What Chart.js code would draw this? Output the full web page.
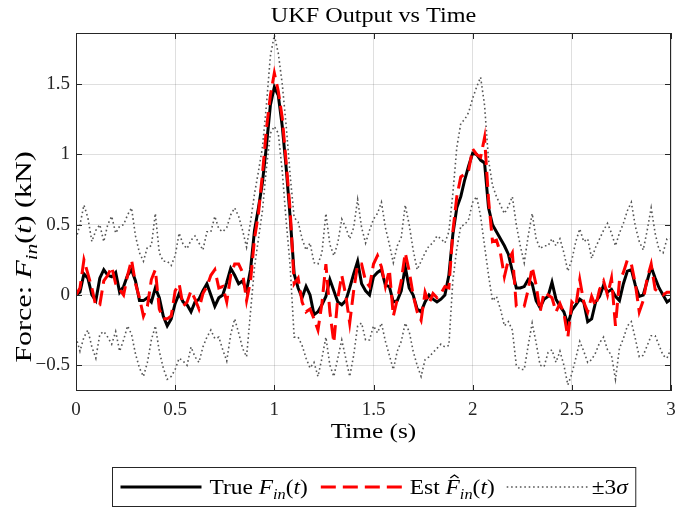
<!DOCTYPE html>
<html>
<head>
<meta charset="utf-8">
<script src="https://cdn.jsdelivr.net/npm/chart.js@4.4.1/dist/chart.umd.min.js"></script>
<style>
html, body { margin: 0; padding: 0; background: #fff; }
</style>
</head>
<body>
<canvas id="ukfChart" width="675" height="512"></canvas>
<script>
// time axis (s), 0.02 s steps
const timeS = [
  0, 0.02, 0.04, 0.06, 0.08, 0.1, 0.12, 0.14, 0.16, 0.18,
  0.2, 0.22, 0.24, 0.26, 0.28, 0.3, 0.32, 0.34, 0.36, 0.38,
  0.4, 0.42, 0.44, 0.46, 0.48, 0.5, 0.52, 0.54, 0.56, 0.58,
  0.6, 0.62, 0.64, 0.66, 0.68, 0.7, 0.72, 0.74, 0.76, 0.78,
  0.8, 0.82, 0.84, 0.86, 0.88, 0.9, 0.92, 0.94, 0.96, 0.98,
  1, 1.02, 1.04, 1.06, 1.08, 1.1, 1.12, 1.14, 1.16, 1.18,
  1.2, 1.22, 1.24, 1.26, 1.28, 1.3, 1.32, 1.34, 1.36, 1.38,
  1.4, 1.42, 1.44, 1.46, 1.48, 1.5, 1.52, 1.54, 1.56, 1.58,
  1.6, 1.62, 1.64, 1.66, 1.68, 1.7, 1.72, 1.74, 1.76, 1.78,
  1.8, 1.82, 1.84, 1.86, 1.88, 1.9, 1.92, 1.94, 1.96, 1.98,
  2, 2.02, 2.04, 2.06, 2.08, 2.1, 2.12, 2.14, 2.16, 2.18,
  2.2, 2.22, 2.24, 2.26, 2.28, 2.3, 2.32, 2.34, 2.36, 2.38,
  2.4, 2.42, 2.44, 2.46, 2.48, 2.5, 2.52, 2.54, 2.56, 2.58,
  2.6, 2.62, 2.64, 2.66, 2.68, 2.7, 2.72, 2.74, 2.76, 2.78,
  2.8, 2.82, 2.84, 2.86, 2.88, 2.9, 2.92, 2.94, 2.96, 2.98,
  3
];

// true input force (kN)
const trueForce = [
  0.00, 0.02, 0.15, 0.12, 0.00, -0.04, 0.12, 0.18, 0.14, 0.13, 0.16, 0.02, 0.06, 0.14, 0.18, 0.10, -0.04, -0.04, -0.02,
  -0.05, 0.05, -0.02, -0.15, -0.22, -0.17, -0.06, 0.01, -0.05, -0.07, -0.12, -0.05, -0.03, 0.03, 0.08, 0.00, -0.08, -0.02, 0.00,
  0.09, 0.19, 0.14, 0.08, 0.10, 0.03, 0.18, 0.46, 0.62, 0.80, 1.06, 1.35, 1.48, 1.42, 1.20, 0.90, 0.55, 0.15,
  0.05, -0.02, 0.06, 0.00, -0.14, -0.12, -0.07, -0.01, 0.11, 0.03, -0.05, -0.07, -0.04, 0.05, 0.15, 0.24, 0.08, 0.03, 0.00,
  0.13, 0.16, 0.18, 0.07, 0.06, -0.05, -0.04, 0.03, 0.20, 0.05, 0.00, -0.10, -0.12, -0.05, 0.00, -0.03, -0.05, -0.03, 0.00,
  0.14, 0.43, 0.62, 0.70, 0.82, 0.92, 1.01, 1.00, 0.96, 0.94, 0.62, 0.50, 0.45, 0.40, 0.35, 0.29, 0.17, 0.05, 0.05,
  0.06, 0.11, 0.08, -0.04, -0.09, -0.03, -0.01, 0.09, -0.03, -0.08, -0.12, -0.21, -0.11, -0.07, -0.03, -0.05, -0.19, -0.17,
  -0.05, -0.01, 0.07, 0.02, 0.04, -0.01, -0.04, 0.08, 0.17, 0.18, 0.07, -0.01, 0.00, 0.10, 0.20, 0.12, 0.05, 0.00, -0.05, -0.03
];

// UKF estimate (kN)
const estForce = [
  0.00, 0.05, 0.25, 0.15, 0.05, -0.08, -0.07, 0.10, 0.14, 0.20, 0.08, 0.04, 0.00, 0.14, 0.25, 0.08, -0.02, -0.15, -0.08,
  0.11, 0.18, -0.10, -0.17, -0.17, -0.15, 0.03, 0.08, -0.08, -0.05, 0.03, -0.03, -0.10, 0.01, 0.06, 0.14, 0.18, 0.05, 0.06,
  -0.05, 0.14, 0.22, 0.22, 0.16, -0.04, 0.10, 0.40, 0.58, 0.86, 1.18, 1.42, 1.58, 1.45, 1.26, 0.94, 0.60, 0.08,
  0.12, -0.05, -0.12, -0.10, -0.17, -0.25, -0.06, 0.22, -0.12, -0.34, -0.02, 0.14, 0.00, -0.20, 0.03, 0.22, 0.22, 0.10, 0.06,
  0.22, 0.28, 0.20, 0.06, 0.18, -0.15, -0.03, 0.10, 0.30, 0.17, 0.00, -0.12, -0.18, 0.02, -0.06, 0.01, -0.02, 0.01, 0.06,
  0.05, 0.45, 0.70, 0.84, 0.86, 0.89, 1.04, 1.00, 0.98, 1.12, 0.68, 0.38, 0.39, 0.30, 0.13, 0.25, 0.30, -0.08, -0.09,
  -0.08, 0.04, 0.20, 0.07, -0.12, 0.02, 0.00, -0.02, -0.12, -0.06, -0.13, -0.30, -0.05, -0.08, 0.11, -0.05, -0.12, -0.01,
  -0.08, 0.04, 0.10, 0.00, 0.12, -0.22, 0.10, 0.16, 0.25, 0.22, 0.08, -0.12, -0.04, 0.12, 0.22, 0.04, 0.02, 0.00, 0.02, 0.02
];

// +3 sigma bound (kN)
const upperBound = [
  0.40, 0.50, 0.64, 0.55, 0.38, 0.46, 0.50, 0.38, 0.50, 0.56, 0.44, 0.49, 0.50, 0.57, 0.62, 0.42, 0.30, 0.24, 0.34,
  0.35, 0.58, 0.30, 0.24, 0.24, 0.21, 0.28, 0.44, 0.36, 0.33, 0.39, 0.42, 0.37, 0.32, 0.45, 0.45, 0.56, 0.47, 0.45,
  0.48, 0.57, 0.62, 0.56, 0.46, 0.34, 0.52, 0.72, 0.88, 1.05, 1.35, 1.70, 1.85, 1.72, 1.50, 1.20, 0.85, 0.55,
  0.52, 0.40, 0.32, 0.37, 0.23, 0.22, 0.30, 0.58, 0.36, 0.28, 0.37, 0.54, 0.48, 0.40, 0.48, 0.68, 0.48, 0.37, 0.46,
  0.54, 0.58, 0.66, 0.48, 0.36, 0.23, 0.35, 0.41, 0.64, 0.50, 0.32, 0.18, 0.24, 0.30, 0.35, 0.37, 0.42, 0.40, 0.37,
  0.45, 0.72, 1.05, 1.22, 1.25, 1.30, 1.40, 1.48, 1.55, 1.35, 0.96, 0.78, 0.70, 0.64, 0.58, 0.63, 0.70, 0.50, 0.35,
  0.23, 0.42, 0.58, 0.40, 0.33, 0.35, 0.35, 0.40, 0.35, 0.40, 0.30, 0.17, 0.25, 0.38, 0.47, 0.38, 0.40, 0.26,
  0.34, 0.40, 0.46, 0.51, 0.44, 0.35, 0.44, 0.51, 0.60, 0.66, 0.49, 0.38, 0.32, 0.46, 0.62, 0.44, 0.32, 0.30, 0.40, 0.40
];

// -3 sigma bound (kN)
const lowerBound = [
  -0.30, -0.40, -0.30, -0.25, -0.37, -0.45, -0.28, -0.26, -0.30, -0.35, -0.26, -0.40, -0.32, -0.22, -0.28, -0.42, -0.52, -0.58, -0.48,
  -0.32, -0.22, -0.40, -0.52, -0.60, -0.58, -0.53, -0.45, -0.47, -0.50, -0.37, -0.44, -0.48, -0.37, -0.30, -0.25, -0.31, -0.30, -0.39,
  -0.47, -0.28, -0.17, -0.27, -0.38, -0.44, -0.12, 0.20, 0.40, 0.60, 0.90, 1.15, 1.20, 1.15, 0.88, 0.52, 0.20, -0.30,
  -0.30, -0.36, -0.45, -0.52, -0.48, -0.58, -0.45, -0.30, -0.50, -0.58, -0.45, -0.32, -0.45, -0.58, -0.43, -0.22, -0.20, -0.32, -0.32,
  -0.22, -0.27, -0.20, -0.33, -0.43, -0.53, -0.40, -0.33, -0.20, -0.26, -0.40, -0.50, -0.58, -0.46, -0.44, -0.41, -0.38, -0.35, -0.37,
  -0.36, 0.10, 0.33, 0.49, 0.50, 0.54, 0.66, 0.70, 0.56, 0.35, 0.14, -0.04, -0.01, -0.10, -0.22, -0.19, -0.25, -0.50, -0.53,
  -0.53, -0.36, -0.20, -0.34, -0.50, -0.51, -0.41, -0.39, -0.48, -0.40, -0.50, -0.64, -0.56, -0.45, -0.33, -0.40, -0.48, -0.46,
  -0.41, -0.34, -0.30, -0.39, -0.43, -0.60, -0.38, -0.31, -0.22, -0.19, -0.31, -0.44, -0.43, -0.36, -0.29, -0.29, -0.36, -0.43, -0.45, -0.38
];

const xTicks = [0, 0.5, 1, 1.5, 2, 2.5, 3];
const yTicks = [-0.5, 0, 0.5, 1, 1.5];

const FONT = '"Liberation Serif", "Times New Roman", serif';
const AXIS_COLOR = '#262626';

// rich text pieces: it = italic, sub = subscript, hat = circumflex over the glyph
const titleParts = [{ t: 'UKF Output vs Time' }];
const xLabelParts = [{ t: 'Time (s)' }];
const yLabelParts = [
  { t: 'Force: ' }, { t: 'F', it: true }, { t: 'in', it: true, sub: true },
  { t: '(' }, { t: 't', it: true }, { t: ') (kN)' }
];
const legendLabels = [
  [{ t: 'True ' }, { t: 'F', it: true }, { t: 'in', it: true, sub: true }, { t: '(' }, { t: 't', it: true }, { t: ')' }],
  [{ t: 'Est ' }, { t: 'F', it: true, hat: true }, { t: 'in', it: true, sub: true }, { t: '(' }, { t: 't', it: true }, { t: ')' }],
  [{ t: '\u00b13' }, { t: '\u03c3', it: true }]
];

function toPoints(ys) {
    return ys.map((y, i) => ({ x: timeS[i], y: y }));
}

function setFont(ctx, part, size) {
    const fs = part.sub ? size * 0.7 : size;
    ctx.font = (part.it ? 'italic ' : '') + fs + 'px ' + FONT;
}

function richWidth(ctx, parts, size, stretch) {
    let w = 0;
    parts.forEach(p => {
        setFont(ctx, p, size);
        w += ctx.measureText(p.t).width;
    });
    return w * (stretch || 1);
}

// draws text pieces from x (left) on a baseline, stretched horizontally like the CM font
function drawRich(ctx, parts, x, baseline, size, stretch) {
    ctx.save();
    ctx.translate(x, baseline);
    ctx.scale(stretch || 1, 1);
    let cx = 0;
    ctx.textAlign = 'left';
    ctx.textBaseline = 'alphabetic';
    parts.forEach(p => {
        setFont(ctx, p, size);
        const dy = p.sub ? size * 0.25 : 0;
        const w = ctx.measureText(p.t).width;
        ctx.fillText(p.t, cx, dy);
        if (p.hat) {
            const c = cx + w * 0.62;
            const top = -size * 0.93;
            ctx.save();
            ctx.lineWidth = 1;
            ctx.strokeStyle = ctx.fillStyle;
            ctx.beginPath();
            ctx.moveTo(c - 3.5, top + 3);
            ctx.lineTo(c, top);
            ctx.lineTo(c + 3.5, top + 3);
            ctx.stroke();
            ctx.restore();
        }
        cx += w;
    });
    ctx.restore();
}

function drawCentered(ctx, parts, cx, cy, size, stretch) {
    const w = richWidth(ctx, parts, size, stretch);
    drawRich(ctx, parts, cx - w / 2, cy + size * 0.33, size, stretch);
}

// axes box, inward ticks, title, axis labels and boxed legend in MATLAB style
const matlabFrame = {
    id: 'matlabFrame',
    afterDraw(chart) {
        const ctx = chart.ctx;
        const area = chart.chartArea;
        const xs = chart.scales.x;
        const ys = chart.scales.y;
        const midX = (area.left + area.right) / 2;
        ctx.save();

        ctx.strokeStyle = AXIS_COLOR;
        ctx.lineWidth = 1;
        ctx.strokeRect(area.left + 0.5, area.top + 0.5, area.right - area.left - 1, area.bottom - area.top - 1);
        const tl = 6;
        ctx.beginPath();
        xTicks.forEach(v => {
            const px = Math.round(xs.getPixelForValue(v)) + 0.5;
            ctx.moveTo(px, area.bottom); ctx.lineTo(px, area.bottom - tl);
            ctx.moveTo(px, area.top); ctx.lineTo(px, area.top + tl);
        });
        yTicks.forEach(v => {
            const py = Math.round(ys.getPixelForValue(v)) + 0.5;
            ctx.moveTo(area.left, py); ctx.lineTo(area.left + tl, py);
            ctx.moveTo(area.right, py); ctx.lineTo(area.right - tl, py);
        });
        ctx.stroke();

        ctx.fillStyle = '#000';
        drawCentered(ctx, titleParts, midX, 15, 22, 1.1);
        drawCentered(ctx, xLabelParts, midX, 431, 22, 1.15);

        // y label, rotated
        ctx.save();
        ctx.translate(23, 257);
        ctx.rotate(-Math.PI / 2);
        drawCentered(ctx, yLabelParts, 0, 0, 24, 1.25);
        ctx.restore();

        // legend
        const lSize = 20, stretch = 1.17;
        const sample = 81, gapAfterLine = 8, gaps = [13, 12], padL = 8, padR = 4;
        const entries = [chart.data.datasets[0], chart.data.datasets[1], chart.data.datasets[2]];
        const widths = legendLabels.map(p => richWidth(ctx, p, lSize, stretch));
        let total = padL + padR;
        widths.forEach((w, i) => { total += sample + gapAfterLine + w + (i < widths.length - 1 ? gaps[i] : 0); });
        const boxX = Math.round(midX - total / 2) + 0.5;
        const boxY = 467.5, boxH = 39;
        ctx.fillStyle = '#fff';
        ctx.fillRect(boxX, boxY, total, boxH);
        ctx.strokeStyle = AXIS_COLOR;
        ctx.lineWidth = 1;
        ctx.setLineDash([]);
        ctx.strokeRect(boxX, boxY, total, boxH);
        const midY = boxY + boxH / 2;
        let cx = boxX + padL;
        entries.forEach((ds, i) => {
            ctx.save();
            ctx.strokeStyle = ds.borderColor;
            ctx.lineWidth = ds.borderWidth;
            ctx.setLineDash(ds.borderDash || []);
            ctx.beginPath();
            ctx.moveTo(cx, midY);
            ctx.lineTo(cx + sample, midY);
            ctx.stroke();
            ctx.restore();
            cx += sample + (i === 2 ? 4 : gapAfterLine);
            ctx.fillStyle = '#000';
            drawRich(ctx, legendLabels[i], cx, midY + lSize * 0.33, lSize, stretch);
            cx += widths[i] + (i < 2 ? gaps[i] : 0);
        });
        ctx.restore();
    }
};

const ctx = document.getElementById('ukfChart').getContext('2d');
const ukfChart = new Chart(ctx, {
    type: 'line',
    data: {
        datasets: [
            {
                label: 'True',
                data: toPoints(trueForce),
                borderColor: '#000000',
                borderWidth: 3,
                pointRadius: 0,
                tension: 0,
                order: 2,
            },
            {
                label: 'Est',
                data: toPoints(estForce),
                borderColor: '#ff0000',
                borderWidth: 3,
                borderDash: [15, 7],
                pointRadius: 0,
                tension: 0,
                order: 1,
            },
            {
                label: '+3 sigma',
                data: toPoints(upperBound),
                borderColor: '#555555',
                borderWidth: 1.6,
                borderDash: [1.6, 2.8],
                pointRadius: 0,
                tension: 0,
                order: 3,
            },
            {
                label: '-3 sigma',
                data: toPoints(lowerBound),
                borderColor: '#555555',
                borderWidth: 1.6,
                borderDash: [1.6, 2.8],
                pointRadius: 0,
                tension: 0,
                order: 3,
            },
        ],
    },
    options: {
        responsive: false,
        animation: false,
        devicePixelRatio: 1,
        layout: { padding: { left: 0, right: 4, top: 33, bottom: 0 } },
        plugins: {
            legend: { display: false },
            tooltip: { enabled: false },
            title: { display: false },
        },
        scales: {
            x: {
                type: 'linear',
                min: 0,
                max: 3,
                afterBuildTicks: scale => { scale.ticks = xTicks.map(v => ({ value: v })); },
                afterFit: scale => {
                    scale.height = 121;
                    scale.paddingLeft = 0;
                    scale.paddingRight = 0;
                },
                ticks: {
                    color: AXIS_COLOR,
                    font: { family: FONT, size: 19 },
                    padding: 8,
                    maxRotation: 0,
                    callback: v => String(v),
                },
                grid: { color: 'rgba(38,38,38,0.15)', drawTicks: false },
                border: { display: false },
            },
            y: {
                type: 'linear',
                min: -0.6834,
                max: 1.8646,
                afterBuildTicks: scale => { scale.ticks = yTicks.map(v => ({ value: v })); },
                afterFit: scale => {
                    scale.width = 76;
                    scale.paddingTop = 0;
                    scale.paddingBottom = 0;
                },
                ticks: {
                    color: AXIS_COLOR,
                    font: { family: FONT, size: 19 },
                    padding: 6,
                    callback: v => String(v).replace('-', '\u2212'),
                },
                grid: { color: 'rgba(38,38,38,0.15)', drawTicks: false },
                border: { display: false },
            },
        },
    },
    plugins: [matlabFrame],
});
</script>
</body>
</html>
